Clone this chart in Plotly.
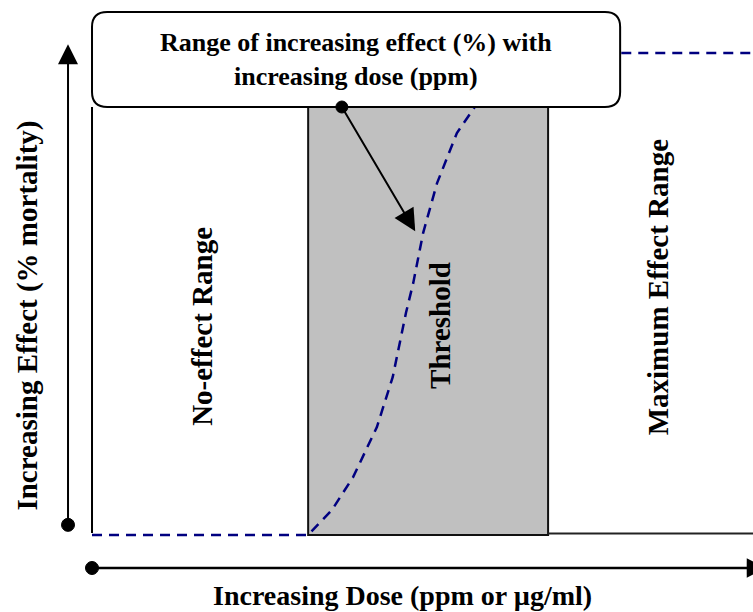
import plotly.graph_objects as go

# ---------------- data ----------------
range_names = ["No-effect Range", "Threshold", "Maximum Effect Range"]
range_bounds = [0.0, 3.27, 6.90, 10.0]          # dose units
curve_dose = [0.0, 3.27, 3.63, 3.95, 4.31, 4.55, 4.75, 4.86, 5.01, 5.22, 5.52, 5.76, 6.0, 6.4, 6.9, 10.3]
curve_effect = [0.0, 0.0, 5.2, 12.0, 22.4, 32.8, 46.1, 52.3, 62.7, 73.0, 83.4, 88.2, 93.0, 98.0, 100.0, 100.0]
x_title = "Increasing Dose (ppm or µg/ml)"
y_title = "Increasing Effect (% mortality)"
box_text = "Range of increasing effect (%) with<br>increasing dose (ppm)"

FONT = "Liberation Serif, Times New Roman, serif"
NAVY = "#000080"

fig = go.Figure()

# dashed dose-response curve
fig.add_trace(go.Scatter(
    x=curve_dose, y=curve_effect, mode="lines",
    line=dict(color=NAVY, width=2.5, dash="10px,7px"),
    hoverinfo="skip", showlegend=False))

shapes = []
box_bottom = 88.8
box_top = 108.5
box_right = 7.99
# threshold grey box
shapes.append(dict(type="rect", xref="x", yref="y", x0=range_bounds[1], x1=range_bounds[2],
                   y0=0, y1=box_bottom, fillcolor="#c0c0c0",
                   line=dict(color="#111111", width=2), layer="below"))
# left vertical boundary
shapes.append(dict(type="line", xref="x", yref="y", x0=range_bounds[0], x1=range_bounds[0],
                   y0=0.4, y1=box_bottom, line=dict(color="black", width=2), layer="below"))
# baseline in max-effect range
shapes.append(dict(type="line", xref="x", yref="y", x0=range_bounds[2], x1=10.3,
                   y0=0.3, y1=0.3, line=dict(color="#222222", width=2), layer="below"))

# rounded callout box
rx, ry = 0.23, 3.1
x0, x1, y0, y1 = range_bounds[0], box_right, box_bottom, box_top
path = (f"M {x0+rx},{y0} L {x1-rx},{y0} Q {x1},{y0} {x1},{y0+ry} "
        f"L {x1},{y1-ry} Q {x1},{y1} {x1-rx},{y1} L {x0+rx},{y1} "
        f"Q {x0},{y1} {x0},{y1-ry} L {x0},{y0+ry} Q {x0},{y0} {x0+rx},{y0} Z")
shapes.append(dict(type="path", xref="x", yref="y", path=path, fillcolor="white",
                   line=dict(color="black", width=2), layer="above"))


def dot(xv, yv, r=6.5):
    return dict(type="circle", xref="x", yref="y", xsizemode="pixel", ysizemode="pixel",
                xanchor=xv, yanchor=yv, x0=-r, x1=r, y0=-r, y1=r,
                fillcolor="black", line=dict(color="black", width=1), layer="above")


y_axis_x = -0.363
x_axis_y = -6.85
ptr_tail = (3.78, box_bottom)
ptr_tip = (4.89, 63.0)
shapes.append(dot(y_axis_x, 2.1))
shapes.append(dot(0.0, x_axis_y))
shapes.append(dot(*ptr_tail, r=6))

annotations = []
# axis arrows
annotations.append(dict(x=y_axis_x, y=101.8, ax=y_axis_x, ay=2.1, xref="x", yref="y",
                        axref="x", ayref="y", showarrow=True, arrowhead=2, arrowsize=2.0,
                        arrowwidth=2, arrowcolor="black", text=""))
annotations.append(dict(x=10.2, y=x_axis_y, ax=0.0, ay=x_axis_y, xref="x", yref="y",
                        axref="x", ayref="y", showarrow=True, arrowhead=2, arrowsize=1.5,
                        arrowwidth=2.6, arrowcolor="black", text=""))
# pointer arrow
annotations.append(dict(x=ptr_tip[0], y=ptr_tip[1], ax=ptr_tail[0], ay=ptr_tail[1], xref="x", yref="y",
                        axref="x", ayref="y", showarrow=True, arrowhead=2, arrowsize=2.2,
                        arrowwidth=2, arrowcolor="black", text=""))

# range labels (rotated)
label_shift = [2, 12, 7]
label_y = [43.2, 43.4, 51.5]
for name, a, b, sh, yy in zip(range_names, range_bounds[:-1], range_bounds[1:], label_shift, label_y):
    annotations.append(dict(x=(a + b) / 2, y=yy, xref="x", yref="y", text=f"<b>{name}</b>",
                            textangle=-90, showarrow=False, xshift=sh,
                            font=dict(family=FONT, size=29, color="black")))

# box text
annotations.append(dict(x=(x0 + x1) / 2, y=(y0 + y1) / 2, xref="x", yref="y", text=f"<b>{box_text}</b>",
                        showarrow=False, font=dict(family=FONT, size=26, color="black")))

# axis titles
annotations.append(dict(x=4.7, y=-12.6, xref="x", yref="y", text=f"<b>{x_title}</b>",
                        showarrow=False, font=dict(family=FONT, size=28, color="black")))
annotations.append(dict(x=-0.97, y=45.5, xref="x", yref="y", text=f"<b>{y_title}</b>",
                        textangle=-90, showarrow=False, font=dict(family=FONT, size=29, color="black")))

fig.update_layout(
    width=753, height=612, margin=dict(l=0, r=0, t=0, b=0),
    paper_bgcolor="white", plot_bgcolor="white",
    shapes=shapes, annotations=annotations, showlegend=False,
    xaxis=dict(range=[-1.392, 10.0], visible=False, fixedrange=True),
    yaxis=dict(range=[-15.98, 111.0], visible=False, fixedrange=True),
)

fig.write_html("out.html", config={"displayModeBar": False},
               post_script="document.body.style.margin='0';document.body.style.overflow='hidden';")
